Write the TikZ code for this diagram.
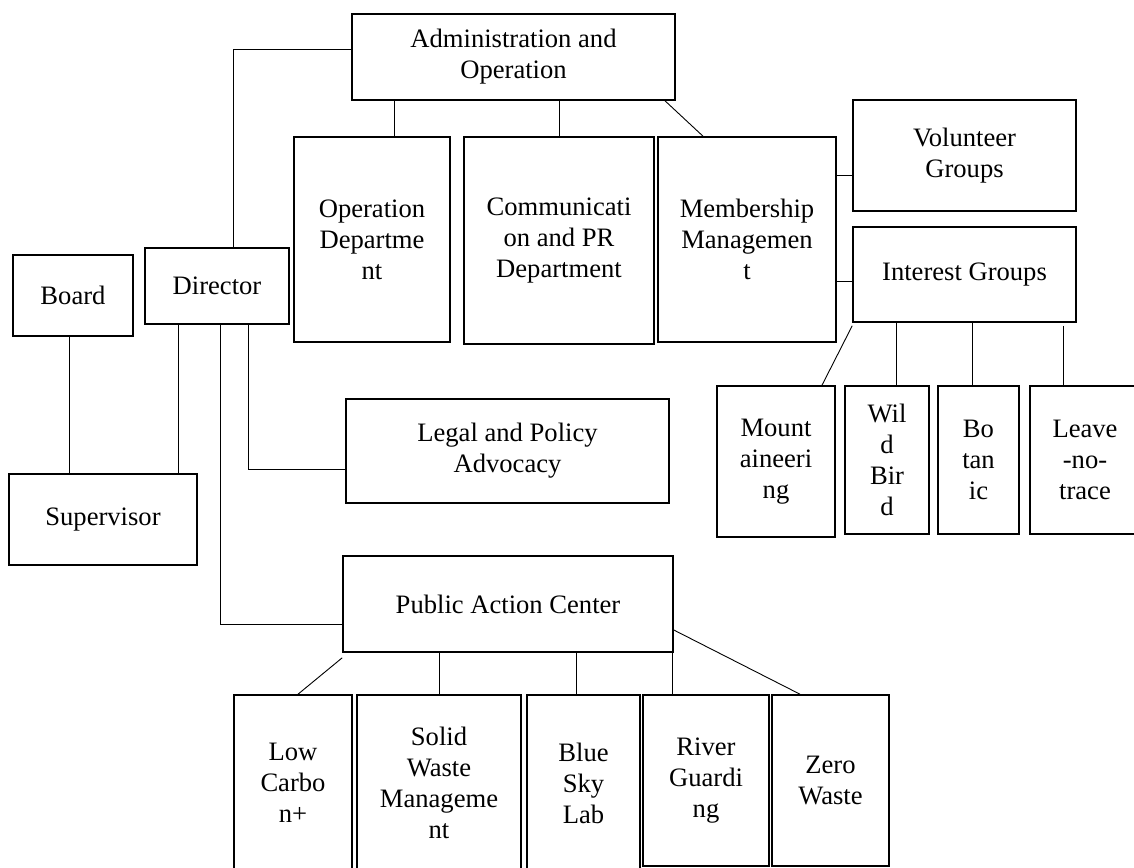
\documentclass[tikz,border=0pt]{standalone}
\usepackage{fontspec}
\setmainfont{Liberation Serif}

\tikzset{
  unit/.style 2 args={minimum width=#1*0.5pt, minimum height=#2*0.5pt},
  box/.style={draw, line width=0.8pt, align=center, inner sep=0pt, fill=white},
  link/.style={line width=0.45pt},
}

\begin{document}
\begin{tikzpicture}[x=0.5pt, y=-0.5pt, font=\fontsize{13.3}{15.5}\selectfont]
  \clip (0,0) rectangle (1134,867);

  % top row
  \node[box, unit={323}{86}] (admin) at (513.5,57) {Administration and\\Operation};
  \node[box, unit={156}{205}] (opdept) at (372,239.5) {Operation\\Departme\\nt};
  \node[box, unit={190}{207}] (comm) at (559,240.5) {Communicati\\on and PR\\Department};
  \node[box, unit={178}{205}] (member) at (747,239.5) {Membership\\Managemen\\t};
  \node[box, unit={223}{111}] (volunteer) at (964.5,155.5) {Volunteer\\Groups};
  \node[box, unit={223}{95}] (interest) at (964.5,274.5) {Interest Groups};

  % interest groups
  \node[box, unit={118}{151}] (mount) at (776,461.5) {Mount\\aineeri\\ng};
  \node[box, unit={84}{148}] (wild) at (887,460) {Wil\\d\\Bir\\d};
  \node[box, unit={81}{148}] (botanic) at (978.5,460) {Bo\\tan\\ic};
  \node[box, unit={110}{148}] (leave) at (1085,460) {Leave\\-no-\\trace};

  % left side
  \node[box, unit={120}{81}] (board) at (73,295.5) {Board};
  \node[box, unit={144}{76}] (director) at (217,286) {Director};
  \node[box, unit={188}{91}] (supervisor) at (103,519.5) {Supervisor};
  \node[box, unit={323}{104}] (legal) at (507.5,451) {Legal and Policy\\Advocacy};
  \node[box, unit={330}{96}] (public) at (508,604) {Public Action Center};

  % public action projects
  \node[box, unit={118}{176}] (lowcarbon) at (293,783) {Low\\Carbo\\n+};
  \node[box, unit={164}{176}] (solid) at (439,783) {Solid\\Waste\\Manageme\\nt};
  \node[box, unit={113}{176}] (bluesky) at (583.5,783) {Blue\\Sky\\Lab};
  \node[box, unit={126}{171}] (river) at (706,780.5) {River\\Guardi\\ng};
  \node[box, unit={117}{171}] (zero) at (830.5,780.5) {Zero\\Waste};

  % links
  \draw[link] (director.north -| 233,0) |- (admin.west |- 0,49);
  \draw[link] (admin.south -| 394,0) -- (opdept.north -| 394,0);
  \draw[link] (admin.south -| comm.north) -- (comm.north);
  \draw[link] (admin.south -| 665,0) -- (member.north -| 703,0);
  \draw[link] (member.east |- 0,175) -- (volunteer.west |- 0,175);
  \draw[link] (member.east |- 0,281) -- (interest.west |- 0,281);
  \draw[link] (interest.south west) ++(0,3) -- (mount.north -| 822,0);
  \draw[link] (interest.south -| 896,0) -- (wild.north -| 896,0);
  \draw[link] (interest.south -| 972,0) -- (botanic.north -| 972,0);
  \draw[link] (interest.south -| 1063,0) ++(0,3) -- (leave.north -| 1063,0);

  \draw[link] (board.south -| 69,0) -- (supervisor.north -| 69,0);
  \draw[link] (director.south -| 178,0) -- (supervisor.north -| 178,0);
  \draw[link] (director.south -| 220,0) |- (public.west |- 0,624);
  \draw[link] (director.south -| 248,0) |- (legal.west |- 0,469);

  \draw[link] (public.south west) ++(0,5) -- (lowcarbon.north -| 298,0) ++(0,-3);
  \draw[link] (public.south -| solid.north) -- (solid.north);
  \draw[link] (public.south -| 576,0) -- (bluesky.north -| 576,0);
  \draw[link] (public.south -| 672,0) -- (river.north -| 672,0);
  \draw[link] (public.east |- 0,630) -- (zero.north -| 800,0);
\end{tikzpicture}
\end{document}
